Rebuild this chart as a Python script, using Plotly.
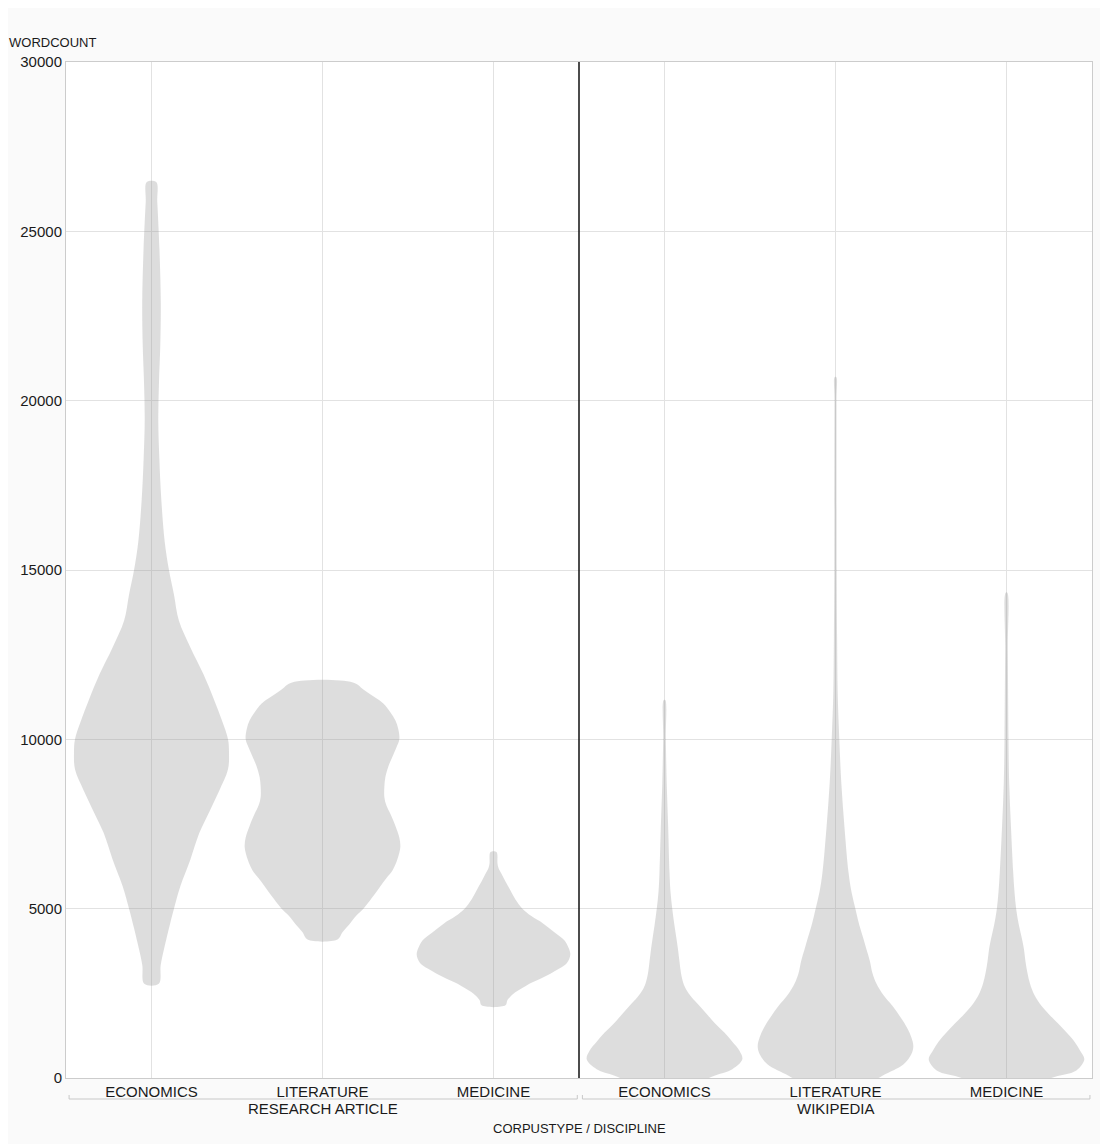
import plotly.graph_objects as go

# ---------------- data ----------------
disciplines = ["ECONOMICS", "LITERATURE", "MEDICINE", "ECONOMICS", "LITERATURE", "MEDICINE"]
corpus_types = ["RESEARCH ARTICLE", "WIKIPEDIA"]
y_ticks = [0, 5000, 10000, 15000, 20000, 25000, 30000]
y_tick_text = ["0", "5000", "10000", "15000", "20000", "25000", "30000"]

# word-count levels and relative density (violin half-width) at each level
ra_econ_y = [2780, 3330, 3800, 4420, 5000, 5670, 6455, 7240, 7865, 8490, 9115, 9585, 10000, 10525,
             11150, 11930, 12715, 13500, 14280, 15000, 15845, 17100, 18350, 19440, 20540, 21640,
             22890, 24450, 25860, 26455]
ra_econ_d = [7.3, 9.2, 12.5, 17.5, 22.5, 29, 39, 48, 58, 68, 76.7, 77.7, 76.7, 71,
             63, 52, 39, 27.5, 22.5, 17.5, 13.2, 9.8, 7.8, 6.8, 7.5, 8.8,
             9.3, 8, 5.8, 4.7]

ra_lit_y = [4090, 4300, 4540, 4800, 5000, 5300, 5620, 5900, 6120, 6450, 6810, 7100, 7450, 7800,
            8050, 8290, 8600, 8880, 9200, 9480, 9750, 10000, 10300, 10560, 10800, 11060, 11250,
            11450, 11680]
ra_lit_d = [15, 20, 27, 34, 41, 49, 57, 64, 70, 75, 78, 77, 73, 68,
            64, 62, 62, 63, 66, 70, 74, 77, 76, 73, 68, 61, 52,
            42, 30.5]

ra_med_y = [2146, 2300, 2490, 2640, 2785, 2930, 3080, 3230, 3375, 3520, 3670, 3860, 4065, 4300,
            4557, 4780, 5000, 5270, 5540, 5800, 6030, 6200, 6330, 6673]
ra_med_d = [12, 14, 20, 28, 36, 47, 57, 66, 73, 76, 77, 75, 71, 61,
            50, 38, 29, 22, 17, 12, 8, 5, 4, 3]

wp_econ_y = [-300, 70, 260, 550, 810, 1070, 1340, 1600, 1870, 2130, 2390, 2600, 2790, 3100,
             3450, 3800, 4110, 4500, 4990, 5500, 6080, 7400, 8720, 10040, 11160]
wp_econ_d = [20, 50, 68, 78, 75, 68, 60, 51, 43, 35, 27, 22, 19, 16.5,
             15, 13.5, 12, 10, 7.8, 6, 5, 3.7, 2.2, 1.3, 0.8]

wp_lit_y = [-300, 70, 400, 700, 940, 1200, 1470, 1800, 2130, 2450, 2790, 3100, 3450, 3800,
            4110, 4500, 4990, 5500, 6080, 7400, 8720, 10000, 11360, 13000, 15000, 20000, 20700]
wp_lit_d = [25, 47, 68, 76, 78, 76, 72, 65, 57, 48, 41, 37, 34.5, 31,
            28, 24, 20, 16, 13, 9, 5.8, 3.8, 2.2, 1.6, 1.2, 1.0, 0.8]

wp_med_y = [-300, 0, 220, 550, 800, 1080, 1350, 1600, 1870, 2130, 2450, 2790, 3100, 3450,
            3800, 4110, 4500, 4990, 5500, 6080, 7400, 8720, 10000, 12680, 14330]
wp_med_d = [25, 45, 70, 78, 74, 68, 60, 52, 43, 35, 28, 23.5, 21, 19,
            17.5, 15.5, 12.5, 9.7, 8, 6.7, 4.5, 2.7, 2, 1.3, 0.8]

violins = [
    (ra_econ_y, ra_econ_d),
    (ra_lit_y, ra_lit_d),
    (ra_med_y, ra_med_d),
    (wp_econ_y, wp_econ_d),
    (wp_lit_y, wp_lit_d),
    (wp_med_y, wp_med_d),
]

# ---------------- figure ----------------
FILL = "rgba(150,150,150,0.32)"
MAX_HALF = 0.455  # half-width (x units) of the widest violin
dmax = max(max(d) for _, d in violins)

fig = go.Figure()
for i, (ys, ds) in enumerate(violins):
    xs_r = [i + d / dmax * MAX_HALF for d in ds]
    xs_l = [i - d / dmax * MAX_HALF for d in ds]
    px = xs_r + xs_l[::-1] + [xs_r[0]]
    py = ys + ys[::-1] + [ys[0]]
    fig.add_trace(go.Scatter(
        x=px, y=py, mode="lines", fill="toself", fillcolor=FILL,
        line=dict(width=0, shape="spline", smoothing=1.0, color=FILL),
        hoverinfo="skip", showlegend=False,
    ))

font = "Liberation Sans, Arial, Helvetica, sans-serif"
TXT = "#1a1a1a"

fig.update_layout(
    width=1100, height=1136,
    margin=dict(l=55, r=16, t=54, b=66),
    paper_bgcolor="#fafafa",
    plot_bgcolor="#ffffff",
    font=dict(family=font, size=15, color=TXT),
    xaxis=dict(
        range=[-0.5, 5.5], tickmode="array", tickvals=list(range(6)), ticktext=disciplines,
        showgrid=True, gridcolor="#e2e2e2", gridwidth=1, zeroline=False,
        showline=True, linecolor="#cccccc", linewidth=1, mirror=True,
        ticks="", tickfont=dict(size=15, color=TXT),
    ),
    yaxis=dict(
        range=[0, 30000], tickmode="array", tickvals=y_ticks, ticktext=y_tick_text,
        showgrid=True, gridcolor="#e2e2e2", gridwidth=1, zeroline=False,
        showline=True, linecolor="#cccccc", linewidth=1, mirror=True,
        ticks="", tickfont=dict(size=15, color=TXT),
    ),
)

# separator between corpus types
fig.add_shape(type="line", xref="x", yref="paper", x0=2.5, x1=2.5, y0=0, y1=1,
              line=dict(color="#111111", width=1.5))

# group brackets and labels
brackets = [(-0.482, 2.49), (2.52, 5.488)]
yb = -21 / 1016
yt = -17 / 1016
for (a, b), name, cx in zip(brackets, corpus_types, [1, 4]):
    fig.add_shape(type="path", xref="x", yref="paper",
                  path=f"M {a},{yt} L {a},{yb} L {b},{yb} L {b},{yt}",
                  line=dict(color="#c8c8c8", width=1))
    fig.add_annotation(x=cx, xref="x", y=0, yref="paper", text=name, showarrow=False,
                       yanchor="middle", yshift=-30, font=dict(size=15, color=TXT))

fig.add_annotation(x=0.5, xref="paper", y=0, yref="paper", text="CORPUSTYPE / DISCIPLINE",
                   showarrow=False, yanchor="middle", yshift=-50,
                   font=dict(size=13, color=TXT))
fig.add_annotation(x=-59 / 1029, xref="paper", y=(1070 - 34) / 1016, yref="paper",
                   text="WORDCOUNT", showarrow=False, xanchor="left", yanchor="middle",
                   font=dict(size=13, color=TXT))

fig.write_html("out.html")
